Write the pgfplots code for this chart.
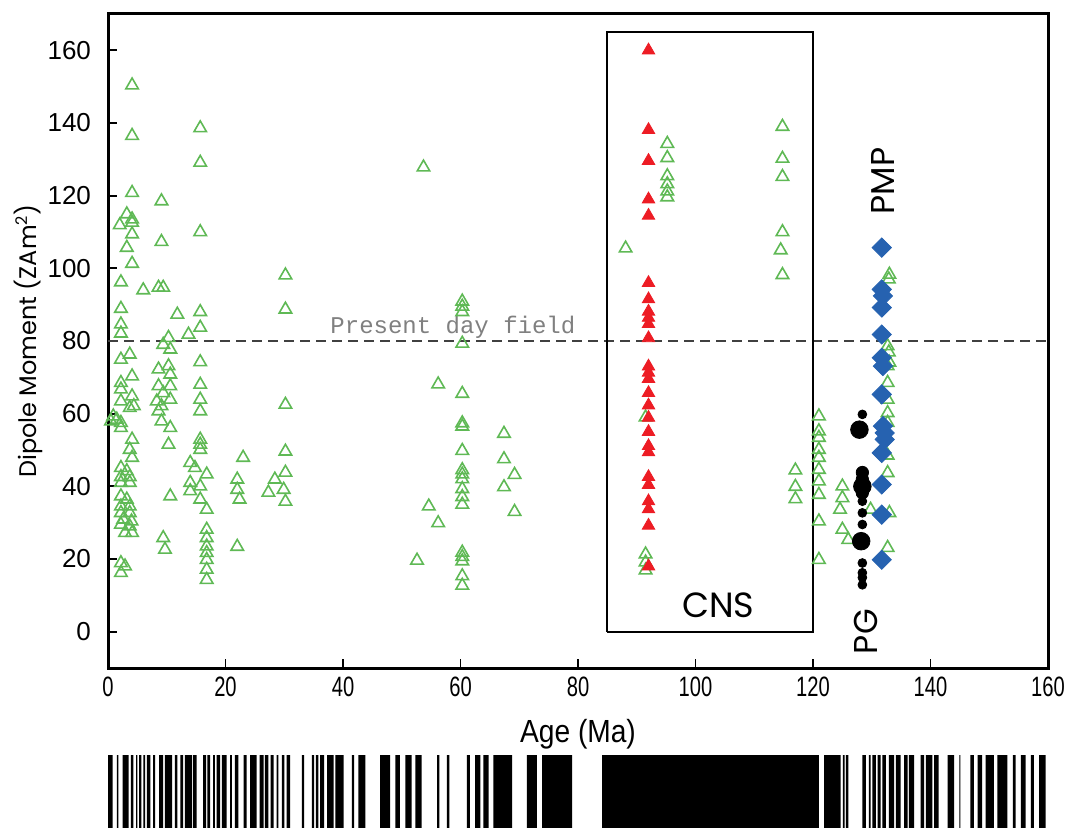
\documentclass[border=0pt]{standalone}
\usepackage{fontspec}
\setmainfont{Liberation Sans}
\newfontfamily\gothic{Poppins}
\newfontfamily\courier{Liberation Mono}
\usepackage{pgfplots}
\pgfplotsset{compat=1.18}
\definecolor{ptgreen}{RGB}{95,185,85}
\definecolor{ptred}{RGB}{237,28,36}
\definecolor{ptblue}{RGB}{38,98,176}

\begin{document}
\begin{tikzpicture}
\useasboundingbox (-54pt,-80pt) rectangle (483pt,334pt);
\begin{axis}[
  scale only axis, width=470pt, height=327pt,
  xmin=0, xmax=160, ymin=-10, ymax=170,
  xtick={0,20,...,160}, ytick={0,20,...,160},
  xtick pos=bottom, ytick pos=left, tick align=inside,
  major tick length=4.5pt,
  every tick/.style={black, line width=0.9pt},
  axis line style={line width=1.5pt},
  /pgf/number format/assume math mode=true,
  yticklabel style={font=\fontsize{13}{13}\selectfont, xshift=-5pt},
  xticklabel style={font=\fontsize{14}{14}\selectfont, xscale=0.72, yshift=-1pt},
  xlabel={Age (Ma)}, ylabel={Dipole Moment (ZAm\textsuperscript{2})},
  xlabel style={font=\fontsize{16}{16}\selectfont, xscale=0.88, at={(axis description cs:0.5,-0.101)}, anchor=center},
  ylabel style={font=\gothic\fontsize{12}{12}\selectfont, at={(axis description cs:-0.085,0.5)}, anchor=center},
  clip=false,
]
% present day field
\addplot[black!75, line width=1pt, dash pattern=on 5pt off 3pt] coordinates {(0,80) (160,80)};
\node[anchor=base west, inner sep=0, text=black!50, font=\courier\fontsize{12}{12}\selectfont] at (axis cs:37.8,82) {Present day field};

% CNS box
\addplot[black, line width=1pt] coordinates {(85,0) (85,165) (120,165) (120,0) (85,0)};
\node[font=\gothic\fontsize{17.5}{17.5}\selectfont] at (axis cs:103.9,7.4) {CNS};
\node[font=\gothic\fontsize{16.5}{16.5}\selectfont, rotate=90] at (axis cs:129,0) {PG};
\node[font=\gothic\fontsize{16.5}{16.5}\selectfont, rotate=90] at (axis cs:131.9,124) {PMP};

% green: global dataset
\addplot[only marks, mark=triangle, mark size=3.6pt, mark options={ptgreen, line width=0.8pt}] coordinates {
(4.1,150.4) (4.1,136.5) (15.7,138.6) (15.7,129.1) (4.1,120.8) (9.1,118.5) (3.2,114.9)
(4.1,113.5) (4.1,112.6) (2.0,111.9) (4.1,109.4) (15.7,110.0) (3.2,105.7) (9.1,107.3)
(4.1,101.3) (2.2,96.2) (6.0,94.0) (8.6,94.7) (9.4,94.7) (2.2,88.9) (11.8,87.3)
(15.7,88.0) (2.2,84.6) (15.7,83.7) (2.2,82.1) (13.7,81.8) (10.3,80.9) (9.4,79.0)
(10.6,77.7) (2.2,74.9) (3.7,76.3) (15.7,74.2) (4.1,70.3) (8.6,72.2) (10.3,73.1)
(10.6,70.8) (2.2,68.5) (2.2,66.7) (15.7,68.0) (8.6,67.6) (9.4,65.7) (10.6,67.6)
(4.1,64.8) (15.7,63.9) (2.2,63.4) (10.6,63.9) (3.7,61.6) (4.4,62.1) (8.3,63.4)
(9.1,62.1) (15.7,60.7) (0.9,59.3) (1.5,58.4) (2.2,57.5) (0.5,57.9) (2.2,56.1)
(8.6,60.7) (9.1,57.9) (10.6,56.1) (10.3,51.5) (4.1,52.9) (3.7,50.1) (15.7,52.9)
(15.7,51.5) (15.7,50.1) (4.1,47.9) (14.0,46.5) (14.8,45.1) (2.2,45.1) (3.2,44.2)
(3.7,42.6) (2.2,42.6) (3.7,41.0) (2.2,41.0) (16.8,43.3) (14.0,41.0) (15.7,40.0)
(14.0,38.7) (10.6,37.3) (15.7,36.4) (2.2,37.3) (3.2,36.4) (2.2,34.5) (3.7,34.5)
(2.2,32.7) (3.7,32.7) (2.6,30.9) (4.0,30.4) (2.2,29.5) (3.7,29.0) (2.9,27.2)
(4.1,27.2) (16.8,33.6) (16.8,28.1) (16.8,25.8) (16.8,23.5) (16.8,21.7) (16.8,19.8)
(16.8,17.1) (16.8,14.3) (9.4,25.8) (9.7,22.6) (2.2,18.9) (2.9,18.0) (2.2,16.2)
(22.0,41.9) (22.0,39.1) (22.4,36.4) (22.0,23.4) (23.0,47.9) (27.3,38.3) (28.4,41.9)
(30.2,98.1) (30.2,88.7) (30.2,62.5) (30.2,49.6) (30.2,43.8) (29.9,39.1) (30.2,35.8)
(52.6,19.6) (53.7,127.8) (54.6,34.5) (56.2,29.9) (56.2,68.1)
(60.3,90.9) (60.3,89.5) (60.3,88.0) (60.3,79.3) (60.3,65.5) (60.3,57.4) (60.3,56.5)
(60.3,49.8) (60.3,44.5) (60.3,43.3) (60.3,42.0) (60.3,39.3) (60.3,37.1) (60.3,35.0)
(60.3,21.8) (60.3,20.6) (60.3,19.4) (60.3,15.3) (60.3,12.7)
(67.4,54.5) (67.4,47.5) (67.4,39.8) (69.2,43.2) (69.2,33.0)
(88.1,105.5) (95.2,134.3) (95.2,130.4) (95.2,125.4) (95.2,123.2) (95.2,121.2) (95.2,119.6)
(91.5,59.0) (91.5,21.3) (91.5,19.1) (91.5,16.9)
(114.8,139.0) (114.8,130.2) (114.8,125.2) (114.8,110.0) (114.5,105.0) (114.8,98.2)
(117.0,44.4) (117.0,39.9) (117.0,36.5)
(121.0,59.3) (121.0,55.2) (121.0,53.4) (121.0,50.1) (121.0,47.9) (121.0,44.6)
(121.0,41.4) (121.0,37.7) (121.0,30.4) (121.0,19.8)
(125.0,40.0) (125.0,36.8) (124.6,33.6) (125.0,28.1) (126.0,25.3) (129.8,33.6)
(133.0,98.3) (132.9,97.0) (132.7,78.6) (132.9,76.9) (133.0,74.1) (132.7,73.1)
(132.7,68.5) (132.7,63.9) (132.7,60.2) (132.7,57.5) (132.7,48.5) (132.7,43.7)
(133.0,32.7) (132.7,23.1)
};

% red: CNS data
\addplot[only marks, mark=triangle*, mark size=3.6pt, mark options={ptred, fill=ptred}] coordinates {
(92,160.0) (92,138.1) (92,129.6) (92,119.0) (92,114.5) (92,96.0) (92,91.5)
(92,88.1) (92,86.4) (92,84.7) (92,80.8) (92,73.0) (92,71.3) (92,69.6) (92,65.7)
(92,62.3) (92,58.9) (92,55.0) (92,51.1) (92,49.4) (92,42.6) (92,40.4) (92,35.9)
(92,33.7) (92,29.2) (92,18.0)
};

% black: PG, three sizes
\addplot[only marks, mark=*, mark size=2.2pt, black] coordinates {
(128.4,59.8) (128.4,35.9) (128.4,32.7) (128.4,29.5) (128.4,18.9) (128.4,16.2)
(128.4,14.9) (128.4,12.9)
};
\addplot[only marks, mark=*, mark size=3.1pt, black] coordinates {
(128.4,43.8) (128.4,41.9) (128.4,38.2)
};
\addplot[only marks, mark=*, mark size=4.4pt, black] coordinates {
(127.9,55.6) (128.4,40.0) (128.2,24.9)
};

% blue: PMP
\addplot[only marks, mark=square*, mark size=3.4pt, mark options={rotate=45, ptblue, fill=ptblue}] coordinates {
(131.7,105.7) (131.7,94.2) (131.9,92.4) (131.7,89.2) (131.7,81.8) (131.7,75.4)
(131.9,73.1) (131.7,65.3) (131.9,56.6) (132.2,54.7) (132.2,52.9) (131.7,49.2)
(131.7,40.5) (131.7,32.2) (131.7,19.8)
};
\end{axis}

% polarity time scale
\begin{axis}[
  at={(0,-43.5pt)}, anchor=north west,
  scale only axis, width=470pt, height=40pt,
  xmin=0, xmax=160, ymin=0, ymax=1, hide axis,
]
\addplot[fill=black, draw=none, const plot mark left] coordinates {
(0,1) (0.8,0) (1.5,1) (1.75,0) (2.5,1) (3.5,0) (3.9,1) (4.3,0) (4.8,1) (5.0,0)
(5.3,1) (5.7,0) (6.0,1) (6.3,0) (6.6,1) (7.2,0) (7.7,1) (8.0,0) (8.7,1) (9.4,0)
(9.7,1) (10.9,0) (11.4,1) (11.8,0) (12.3,1) (12.8,0) (13.1,1) (14.3,0) (14.5,1) (15.1,0)
(16.2,1) (16.7,0) (16.9,1) (17.4,0) (17.9,1) (18.2,0) (18.5,1) (19.1,0) (19.4,1) (20.2,0)
(20.8,1) (21.1,0) (21.6,1) (22.2,0) (23.1,1) (23.6,0) (24.2,1) (25.3,0) (25.8,1) (26.5,0)
(26.7,1) (27.3,0) (27.7,1) (28.2,0) (28.7,1) (29.0,0) (29.6,1) (30.0,0) (30.4,1) (31.0,0)
(33.0,1) (33.4,0) (34.7,1) (35.1,0) (35.4,1) (35.8,0) (36.1,1) (36.8,0) (37.3,1) (38.4,0)
(38.7,1) (40.1,0) (41.5,1) (41.9,0) (42.6,1) (43.8,0) (46.3,1) (48.0,0) (48.9,1) (49.7,0)
(50.6,1) (51.7,0) (52.3,1) (53.4,0) (56.0,1) (56.4,0) (57.7,1) (58.1,0) (61.1,1) (61.6,0)
(62.5,1) (63.4,0) (63.9,1) (64.8,0) (65.6,1) (68.8,0) (71.3,1) (73.0,0) (73.9,1) (79.0,0)
(84.1,1) (121.0,0) (121.9,1) (124.7,0) (125.1,1) (125.4,0) (125.6,1) (126.0,0)
(128.4,1) (129.0,0) (129.5,1) (129.8,0) (130.1,1) (130.7,0) (131.0,1) (131.5,0)
(131.8,1) (132.4,0) (132.9,1) (133.8,0) (134.1,1) (134.9,0) (135.5,1) (136.1,0)
(136.3,1) (137.2,0) (138.3,1) (138.9,0) (139.2,1) (140.3,0) (140.6,1) (141.4,0)
(142.9,1) (144.0,0) (144.9,1) (145.1,0) (146.8,1) (147.4,0) (148.0,1) (148.8,0)
(149.4,1) (150.8,0) (151.4,1) (153.1,0) (154.0,1) (154.5,0) (155.4,1) (156.2,0)
(157.1,1) (157.6,0) (158.5,1) (159.6,0)
} \closedcycle;
\end{axis}
\end{tikzpicture}
\end{document}
